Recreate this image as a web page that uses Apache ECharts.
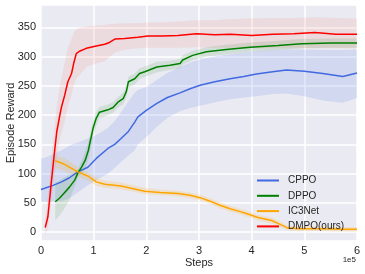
<!DOCTYPE html>
<html>
<head>
<meta charset="utf-8">
<script src="https://cdn.jsdelivr.net/npm/echarts@6/dist/echarts.min.js"></script>
<style>html,body{margin:0;padding:0;background:#fff;}#c{width:365px;height:274px;}</style>
</head>
<body>
<div id="c"></div>
<script>
// x in units of 1e5 steps
const xTicks = [0, 1, 2, 3, 4, 5, 6];
const seriesNames = ['CPPO', 'DPPO', 'IC3Net', 'DMPO(ours)'];

const cppoX  = [0.0, 0.07, 0.23, 0.39, 0.54, 0.70, 0.89, 1.05, 1.27, 1.40, 1.52, 1.65, 1.78, 1.84, 2.0, 2.2, 2.4, 2.64, 2.83, 3.02, 3.3, 3.59, 3.85, 4.09, 4.4, 4.66, 5.0, 5.35, 5.73, 6.0];
const cppoY  = [73, 75, 80, 86, 93, 103, 111, 126, 143, 150, 160, 171, 188, 197, 208, 220, 230, 238, 245, 251, 257, 262, 266, 270, 274, 277, 275, 271, 266, 272];
const cppoLo = [52, 52, 52, 53, 58, 68, 80, 89, 100, 110, 120, 130, 140, 150, 162, 180, 195, 207, 212, 216, 222, 227, 230, 232, 236, 237, 232, 225, 221, 229];
const cppoHi = [126, 127, 133, 140, 148, 153, 160, 166, 178, 190, 205, 222, 238, 243, 248, 260, 272, 282, 290, 295, 300, 304, 307, 309, 311, 312, 312, 311, 311, 312];

const dppoX  = [0.27, 0.35, 0.42, 0.54, 0.64, 0.70, 0.77, 0.84, 0.90, 0.94, 0.99, 1.05, 1.11, 1.27, 1.37, 1.46, 1.56, 1.62, 1.66, 1.78, 1.87, 1.97, 2.2, 2.45, 2.64, 2.69, 2.88, 3.14, 3.52, 3.97, 4.5, 4.95, 5.5, 6.0];
const dppoY  = [52, 58, 65, 77, 89, 101, 111, 123, 140, 157, 178, 195, 205, 209, 213, 222, 228, 240, 257, 262, 271, 274, 282, 285, 288, 294, 302, 308, 312, 316, 319, 322, 323, 323];
const dppoLo = [20, 28, 37, 55, 78, 94, 100, 108, 125, 142, 163, 182, 195, 200, 204, 213, 218, 230, 247, 252, 262, 265, 273, 277, 280, 286, 294, 300, 304, 308, 311, 314, 315, 315];
const dppoHi = [85, 88, 92, 98, 102, 108, 122, 138, 155, 172, 192, 206, 214, 218, 222, 231, 238, 250, 266, 271, 280, 283, 291, 293, 296, 302, 310, 316, 320, 324, 327, 330, 331, 331];

const ic3X  = [0.27, 0.42, 0.58, 0.70, 0.89, 1.05, 1.21, 1.52, 1.71, 1.97, 2.26, 2.6, 2.83, 3.02, 3.21, 3.4, 3.59, 3.75, 3.90, 4.12, 4.38, 4.50, 4.69, 4.9, 5.3, 5.7, 6.0];
const ic3Y  = [122, 117, 109, 103, 96, 86, 82, 79, 75, 70, 68, 66, 63, 59, 53, 46, 40, 36, 32, 25, 20, 15, 7, 6, 6, 5, 5];
const ic3Lo = [110, 105, 99, 95, 88, 79, 76, 73, 70, 65, 63, 61, 58, 54, 48, 41, 35, 31, 27, 20, 15, 10, 3, 2, 2, 1, 1];
const ic3Hi = [131, 127, 119, 111, 103, 93, 88, 85, 81, 76, 73, 71, 68, 64, 58, 51, 45, 41, 37, 30, 25, 20, 11, 10, 10, 9, 9];

const dmpoX  = [0.08, 0.13, 0.20, 0.26, 0.30, 0.36, 0.39, 0.45, 0.51, 0.58, 0.62, 0.67, 0.73, 0.86, 1.05, 1.21, 1.30, 1.41, 1.59, 1.84, 2.03, 2.3, 2.6, 2.95, 3.3, 3.6, 4.0, 4.4, 4.8, 5.2, 5.6, 6.0];
const dmpoY  = [8, 26, 89, 140, 172, 201, 214, 234, 257, 271, 288, 305, 309, 314, 318, 321, 324, 330, 331, 333, 335, 335, 336, 339, 337, 338, 336, 338, 339, 341, 338, 338];
const dmpoLo = [-5, 5, 55, 100, 130, 160, 170, 190, 215, 235, 250, 262, 268, 282, 288, 292, 299, 307, 312, 314, 315, 315, 315, 316, 315, 315, 314, 314, 314, 314, 314, 314];
const dmpoHi = [25, 60, 130, 180, 215, 250, 265, 290, 315, 330, 340, 346, 349, 351, 353, 354, 355, 356, 357, 357, 358, 358, 360, 362, 362, 364, 365, 366, 366, 367, 366, 365];

const colors = ['#4169E1', '#008000', '#FFA500', '#FF0000'];
const bandColors = ['rgba(65,105,225,0.14)', 'rgba(0,128,0,0.11)', 'rgba(255,165,0,0.16)', 'rgba(250,80,50,0.10)'];

const groups = [
  [cppoX, cppoY, cppoLo, cppoHi],
  [dppoX, dppoY, dppoLo, dppoHi],
  [ic3X, ic3Y, ic3Lo, ic3Hi],
  [dmpoX, dmpoY, dmpoLo, dmpoHi]
];

const series = [];
groups.forEach((g, i) => {
  const [xs, ys, lo, hi] = g;
  series.push({
    type: 'custom', name: seriesNames[i] + ' band', silent: true, z: 2,
    data: xs.map((x, k) => [x, lo[k], hi[k]]),
    encode: { x: 0, y: [1, 2] },
    renderItem: function (params, api) {
      if (params.dataIndex !== 0) return null;
      const pts = [];
      for (let k = 0; k < xs.length; k++) pts.push(api.coord([xs[k], hi[k]]));
      for (let k = xs.length - 1; k >= 0; k--) pts.push(api.coord([xs[k], lo[k]]));
      return { type: 'polygon', shape: { points: pts }, style: { fill: bandColors[i] } };
    }
  });
  series.push({
    type: 'line', name: seriesNames[i],
    data: xs.map((x, k) => [x, ys[k]]),
    showSymbol: false, symbol: 'none',
    lineStyle: { color: colors[i], width: 1.5 },
    itemStyle: { color: colors[i] }, z: 3
  });
});

const chart = echarts.init(document.getElementById('c'), null, { renderer: 'canvas' });
chart.setOption({
  animation: false,
  backgroundColor: '#ffffff',
  textStyle: { fontFamily: 'Liberation Sans, Arial, sans-serif' },
  grid: { left: 41, right: 8, top: 5, bottom: 33, show: true, backgroundColor: '#EAEAF2', borderWidth: 0, containLabel: false, outerBoundsMode: 'none' },
  xAxis: {
    type: 'value', min: xTicks[0], max: xTicks[xTicks.length - 1], interval: 1,
    axisLine: { show: false }, axisTick: { show: false },
    splitLine: { show: true, lineStyle: { color: '#ffffff', width: 1.5 } },
    axisLabel: { color: '#262626', fontSize: 11, margin: 4 },
    name: 'Steps', nameLocation: 'middle', nameGap: 16, nameMoveOverlap: false,
    nameTextStyle: { color: '#262626', fontSize: 11 }
  },
  yAxis: {
    type: 'value', min: -15, max: 388, splitNumber: 8, minInterval: 50, maxInterval: 50,
    axisLine: { show: false }, axisTick: { show: false },
    splitLine: { show: true, lineStyle: { color: '#ffffff', width: 1.5 } },
    axisLabel: { color: '#262626', fontSize: 11, margin: 5, formatter: v => (v % 50 === 0 ? String(v) : '') },
    name: 'Episode Reward', nameLocation: 'middle', nameGap: 25, nameMoveOverlap: false,
    nameTextStyle: { color: '#262626', fontSize: 11 }
  },
  legend: {
    data: seriesNames,
    orient: 'vertical', left: 257, top: 174, padding: 0,
    itemWidth: 22, itemHeight: 2, itemGap: 2.3, icon: 'rect',
    textStyle: { color: '#262626', fontSize: 10, lineHeight: 13, padding: [0, 0, 0, 4] }
  },
  graphic: [{
    type: 'text', right: 9, top: 256,
    style: { text: '1e5', fill: '#262626', fontSize: 8, fontFamily: 'Liberation Sans, Arial, sans-serif' }
  }],
  series: series
});
</script>
</body>
</html>
